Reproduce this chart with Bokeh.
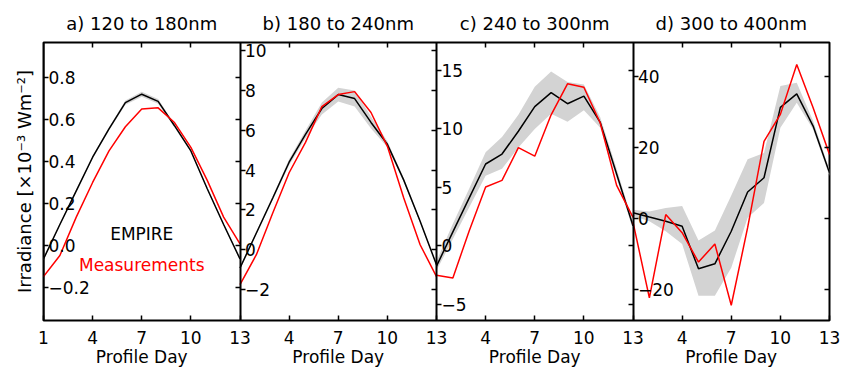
from bokeh.plotting import figure
from bokeh.models import Range1d, LinearAxis, FixedTicker, Label
from bokeh.embed import file_html
from bokeh.resources import INLINE

FONT = "DejaVu Sans"

# ---------------- data ----------------
days = [1, 2, 3, 4, 5, 6, 7, 8, 9, 10, 11, 12, 13]

titles = ["a) 120 to 180nm", "b) 180 to 240nm", "c) 240 to 300nm", "d) 300 to 400nm"]

a_empire = [-0.064, 0.10, 0.26, 0.42, 0.555, 0.68, 0.72, 0.686, 0.57, 0.45, 0.27, 0.10, -0.064]
a_meas = [-0.148, -0.048, 0.135, 0.30, 0.45, 0.565, 0.65, 0.655, 0.585, 0.467, 0.31, 0.135, 0.008]
a_hi = [-0.058, 0.106, 0.266, 0.427, 0.563, 0.69, 0.732, 0.697, 0.578, 0.456, 0.276, 0.106, -0.058]
a_lo = [-0.070, 0.094, 0.254, 0.413, 0.547, 0.67, 0.708, 0.675, 0.562, 0.444, 0.264, 0.094, -0.070]

b_empire = [-0.92, 0.84, 2.6, 4.4, 5.8, 7.1, 7.8, 7.6, 6.4, 5.3, 3.5, 1.43, -0.76]
b_meas = [-1.76, -0.25, 1.85, 3.87, 5.4, 7.2, 7.8, 7.95, 6.9, 5.2, 2.6, 0.25, -1.35]
b_hi = [-0.85, 0.92, 2.7, 4.55, 6.0, 7.4, 8.15, 8.0, 6.7, 5.45, 3.6, 1.5, -0.7]
b_lo = [-1.0, 0.76, 2.5, 4.25, 5.6, 6.8, 7.45, 7.2, 6.1, 5.15, 3.4, 1.36, -0.82]

c_empire = [-1.72, 1.2, 4.1, 7.0, 7.85, 9.8, 11.9, 13.1, 12.15, 12.8, 10.55, 6.15, 1.72]
c_meas = [-2.5, -2.73, 1.3, 5.03, 5.6, 8.4, 7.67, 11.2, 13.85, 13.56, 10.5, 5.17, 2.44]
c_hi = [-1.3, 1.9, 4.9, 8.0, 9.3, 11.2, 13.6, 14.9, 14.0, 13.8, 11.0, 6.6, 2.0]
c_lo = [-2.1, 0.6, 3.3, 6.0, 6.6, 8.4, 10.0, 11.3, 10.6, 11.6, 10.1, 5.8, 1.4]

d_empire = [1.6, 0.4, -0.75, -2.2, -14.2, -12.8, -3.6, 7.5, 11.5, 31.4, 35.2, 26.1, 12.9]
d_meas = [-1.0, -22.4, 1.1, -4.0, -12.3, -7.2, -24.5, -2.6, 21.8, 29.4, 43.5, 31.3, 18.1]
d_hi = [2.5, 2.0, 3.0, 3.5, -6.2, -3.4, 6.5, 16.7, 18.5, 37.4, 38.3, 27.5, 13.8]
d_lo = [0.7, -0.8, -3.6, -7.2, -21.8, -21.8, -13.9, 0.2, 4.4, 25.6, 32.7, 25.1, 12.0]

a_yticks = [-0.2, 0.0, 0.2, 0.4, 0.6, 0.8]
a_ylabels = ["\u22120.2", "0.0", "0.2", "0.4", "0.6", "0.8"]
b_yticks = [-2, 0, 2, 4, 6, 8, 10]
b_ylabels = ["\u22122", "0", "2", "4", "6", "8", "10"]
c_yticks = [-5, 0, 5, 10, 15]
c_ylabels = ["\u22125", "0", "5", "10", "15"]
d_yticks = [-20, 0, 20, 40]
d_ylabels = ["\u221220", "0", "20", "40"]

a_ylim = (-0.357, 0.966)
b_ylim = (-3.56, 10.42)
c_ylim = (-6.37, 17.38)
d_ylim = (-28.8, 49.7)

first_xticks = [1, 4, 7, 10, 13]
other_xticks = [4, 7, 10, 13]
inner_xticks = [4, 7, 10]
title_day = 7

x_label = "Profile Day"
y_label = "Irradiance [\u00d710\u207b\u00b3 Wm\u207b\u00b2]"
legend_names = ["EMPIRE", "Measurements"]

panels = [
    (a_empire, a_meas, a_lo, a_hi, a_yticks, a_ylabels, a_ylim),
    (b_empire, b_meas, b_lo, b_hi, b_yticks, b_ylabels, b_ylim),
    (c_empire, c_meas, c_lo, c_hi, c_yticks, c_ylabels, c_ylim),
    (d_empire, d_meas, d_lo, d_hi, d_yticks, d_ylabels, d_ylim),
]

# ---------------- figure ----------------
span = days[-1] - days[0]          # 12 days per panel
npan = len(panels)
p = figure(width=846, height=370, output_backend="svg", toolbar_location=None,
           x_range=Range1d(days[0], days[0] + span * npan),
           y_range=Range1d(*a_ylim),
           x_axis_location=None, y_axis_location=None,
           min_border_left=43, min_border_right=17,
           min_border_top=42, min_border_bottom=50,
           background_fill_color="white", border_fill_color="white")
p.outline_line_color = "black"
p.outline_line_width = 2
p.xgrid.visible = False
p.ygrid.visible = False

xr_extra, yr_extra = {}, {}
names = []
for k, pan in enumerate(panels):
    if k == 0:
        names.append(("default", "default"))
    else:
        xn, yn = f"x{k}", f"y{k}"
        xr_extra[xn] = Range1d(days[0] - span * k, days[0] + span * (npan - k))
        yr_extra[yn] = Range1d(*pan[6])
        names.append((xn, yn))
p.extra_x_ranges = xr_extra
p.extra_y_ranges = yr_extra

bottom_ticks, bottom_labels = [], {}
top_ticks, top_labels = [], {}
centre_ticks, centre_labels = [], {}
for k, (emp, meas, lo, hi, yt, yl, ylim) in enumerate(panels):
    xn, yn = names[k]
    p.varea(x=days, y1=lo, y2=hi, fill_color="#d3d3d3", x_range_name=xn, y_range_name=yn)
    p.line(days, emp, line_color="black", line_width=1.5, x_range_name=xn, y_range_name=yn)
    p.line(days, meas, line_color="red", line_width=1.5, x_range_name=xn, y_range_name=yn)

    # left edge of panel: ticks pointing in, labels inside (IDL style)
    ax = LinearAxis(fixed_location=days[0], x_range_name=xn, y_range_name=yn,
                    ticker=FixedTicker(ticks=yt),
                    major_label_overrides={t: s for t, s in zip(yt, yl)})
    ax.major_tick_out = 5
    ax.major_tick_in = 0
    ax.minor_tick_out = 0
    ax.minor_tick_in = 0
    ax.major_tick_line_width = 1.5
    ax.axis_line_width = 2
    ax.axis_line_color = "black"
    ax.major_label_standoff = 0
    ax.major_label_text_font = FONT
    ax.major_label_text_font_size = "17px"
    ax.major_label_text_color = "black"
    p.add_layout(ax, "right")

    # right edge of panel: ticks pointing in, no labels
    ax2 = LinearAxis(fixed_location=days[-1], x_range_name=xn, y_range_name=yn,
                     ticker=FixedTicker(ticks=yt))
    ax2.major_tick_out = 5
    ax2.major_tick_in = 0
    ax2.minor_tick_out = 0
    ax2.minor_tick_in = 0
    ax2.major_tick_line_width = 1.5
    ax2.axis_line_color = None
    ax2.major_label_text_color = None
    p.add_layout(ax2, "left")

    # positions of the day ticks of this panel on the shared x scale
    shift = span * k
    for d in (first_xticks if k == 0 else other_xticks):
        bottom_ticks.append(d + shift)
        bottom_labels[d + shift] = str(d)
    for d in inner_xticks:
        top_ticks.append(d + shift)
        top_labels[d + shift] = titles[k] if d == title_day else ""
    centre_ticks.append(title_day + shift)
    centre_labels[title_day + shift] = x_label

# bottom axis: day labels
bx = LinearAxis(ticker=FixedTicker(ticks=bottom_ticks), major_label_overrides=bottom_labels)
bx.major_tick_in = 5
bx.major_tick_out = 0
bx.minor_tick_in = 0
bx.minor_tick_out = 0
bx.major_tick_line_width = 1.5
bx.axis_line_color = None
bx.major_label_standoff = 10
bx.major_label_text_font = FONT
bx.major_label_text_font_size = "17px"
bx.major_label_text_color = "black"
p.add_layout(bx, "below")

# second bottom axis: "Profile Day" under each panel
bx2 = LinearAxis(ticker=FixedTicker(ticks=centre_ticks), major_label_overrides=centre_labels)
bx2.major_tick_in = 0
bx2.major_tick_out = 0
bx2.minor_tick_in = 0
bx2.minor_tick_out = 0
bx2.axis_line_color = None
bx2.major_label_standoff = 0
bx2.major_label_text_font = FONT
bx2.major_label_text_font_size = "17px"
bx2.major_label_text_color = "black"
p.add_layout(bx2, "below")

# top axis: inward ticks and panel titles
tx = LinearAxis(ticker=FixedTicker(ticks=top_ticks), major_label_overrides=top_labels)
tx.major_tick_in = 5
tx.major_tick_out = 0
tx.minor_tick_in = 0
tx.minor_tick_out = 0
tx.major_tick_line_width = 1.5
tx.axis_line_color = None
tx.major_label_standoff = 9
tx.major_label_text_font = FONT
tx.major_label_text_font_size = "18px"
tx.major_label_text_color = "black"
p.add_layout(tx, "above")

# legend texts (panel a)
p.add_layout(Label(x=7, y=0.057, text=legend_names[0], text_align="center",
                   text_baseline="middle", text_font=FONT, text_font_size="17px",
                   text_color="black"))
p.add_layout(Label(x=7, y=-0.095, text=legend_names[1], text_align="center",
                   text_baseline="middle", text_font=FONT, text_font_size="17px",
                   text_color="red"))

# global y axis label
yl_ax = LinearAxis(ticker=FixedTicker(ticks=[]), axis_label=y_label)
yl_ax.axis_line_color = None
yl_ax.major_tick_in = 0
yl_ax.major_tick_out = 0
yl_ax.minor_tick_in = 0
yl_ax.minor_tick_out = 0
yl_ax.major_label_standoff = 0
yl_ax.axis_label_standoff = 9
yl_ax.axis_label_text_font = FONT
yl_ax.axis_label_text_font_size = "18px"
yl_ax.axis_label_text_font_style = "normal"
yl_ax.axis_label_text_color = "black"
p.add_layout(yl_ax, "left")

open("out.html", "w").write(file_html(p, INLINE))
